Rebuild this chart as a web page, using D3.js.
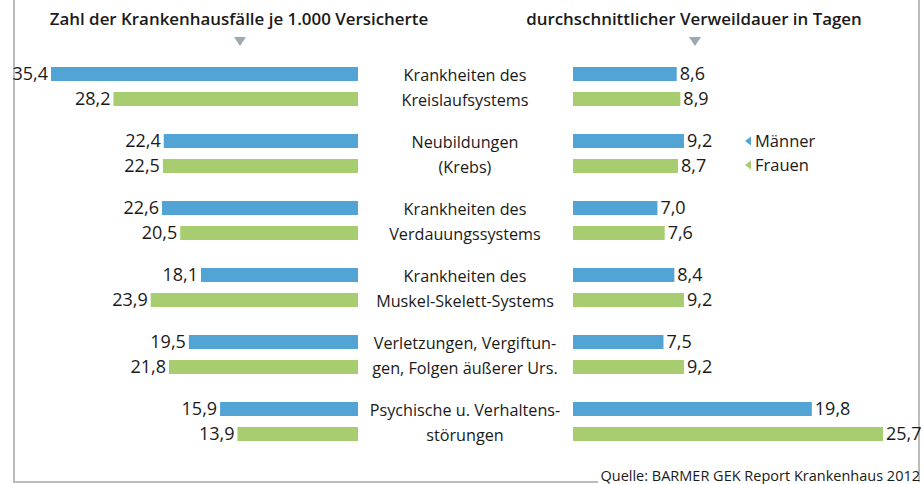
<!DOCTYPE html>
<html><head><meta charset="utf-8">
<script src="https://cdn.jsdelivr.net/npm/d3@7"></script>
<style>body{margin:0;background:#fff}svg{display:block;font-family:"Open Sans",sans-serif}</style>
</head><body><svg width="924" height="484"></svg>
<script>
const categories = [
  ["Krankheiten des","Kreislaufsystems"],
  ["Neubildungen","(Krebs)"],
  ["Krankheiten des","Verdauungssystems"],
  ["Krankheiten des","Muskel-Skelett-Systems"],
  ["Verletzungen, Vergiftun-","gen, Folgen äußerer Urs."],
  ["Psychische u. Verhaltens-","störungen"]
];
const casesMen   = [35.4, 22.4, 22.6, 18.1, 19.5, 15.9];
const casesWomen = [28.2, 22.5, 20.5, 23.9, 21.8, 13.9];
const daysMen    = [8.6, 9.2, 7.0, 8.4, 7.5, 19.8];
const daysWomen  = [8.9, 8.7, 7.6, 9.2, 9.2, 25.7];
const seriesNames = ["Männer","Frauen"];
const titleLeft = "Zahl der Krankenhausfälle je 1.000 Versicherte";
const titleRight = "durchschnittlicher Verweildauer in Tagen";
const source = "Quelle: BARMER GEK Report Krankenhaus 2012";

const blue = "#52a4d4", green = "#a8cc70", grey = "#bcbcbc", txt = "#1a1a1a";
const svg = d3.select("svg");
const fmt = v => d3.format(".1f")(v).replace(".", ",");

const y = d3.scaleBand().domain(d3.range(categories.length)).range([61, 463]).paddingInner(0).paddingOuter(0);
const xL = d3.scaleLinear().domain([0, 35.4]).range([358, 51]);
const xR = d3.scaleLinear().domain([0, 25.7]).range([573, 883]);
const barH = 14, off = [6, 31];

// frame
svg.append("path").attr("d","M14,0 V482 H598").attr("fill","none").attr("stroke",grey).attr("stroke-width",2);
svg.append("path").attr("d","M919,0 V482").attr("fill","none").attr("stroke",grey).attr("stroke-width",2);

// titles
svg.append("text").attr("x",239).attr("y",25).attr("text-anchor","middle").attr("font-size",16.9).attr("font-weight",600).attr("fill",txt).text(titleLeft);
svg.append("text").attr("x",694).attr("y",25).attr("text-anchor","middle").attr("font-size",16.9).attr("font-weight",600).attr("fill",txt).text(titleRight);
[240, 695].forEach(cx => svg.append("path").attr("d",`M${cx-6},37 H${cx+6} L${cx},46 Z`).attr("fill","#9ea8af"));

const series = [[casesMen, daysMen, blue],[casesWomen, daysWomen, green]];
series.forEach(([lv, rv, col], si) => {
  const g = svg.append("g");
  g.selectAll("rect.l").data(lv).join("rect")
    .attr("x", d => xL(d)).attr("width", d => xL(0)-xL(d))
    .attr("y", (d,i) => y(i)+off[si]).attr("height", barH).attr("fill", col);
  g.selectAll("text.l").data(lv).join("text")
    .attr("x", d => xL(d)-3).attr("y", (d,i) => y(i)+off[si]+barH/2).attr("dy","0.36em")
    .attr("text-anchor","end").attr("font-size",18).attr("fill",txt).text(fmt);
  g.selectAll("rect.r").data(rv).join("rect")
    .attr("x", xR(0)).attr("width", d => xR(d)-xR(0))
    .attr("y", (d,i) => y(i)+off[si]).attr("height", barH).attr("fill", col);
  g.selectAll("text.r").data(rv).join("text")
    .attr("x", d => xR(d)+3).attr("y", (d,i) => y(i)+off[si]+barH/2).attr("dy","0.36em")
    .attr("text-anchor","start").attr("font-size",18).attr("fill",txt).text(fmt);
});

// category labels
categories.forEach((c,i) => {
  c.forEach((line,j) => {
    svg.append("text").attr("x",465).attr("y", y(i)+off[j]+barH/2+1).attr("dy","0.36em")
      .attr("text-anchor","middle").attr("font-size",16.2).attr("fill",txt).text(line);
  });
});

// legend
[[blue,141],[green,165]].forEach(([col,cy],i) => {
  svg.append("path").attr("d",`M745,${cy} L751,${cy-4.5} V${cy+4.5} Z`).attr("fill",col);
  svg.append("text").attr("x",755).attr("y",cy).attr("dy","0.36em").attr("font-size",16.5).attr("fill",txt).text(seriesNames[i]);
});

svg.append("text").attr("x",920).attr("y",481).attr("text-anchor","end").attr("font-size",14.5).attr("fill",txt).text(source);
</script></body></html>
